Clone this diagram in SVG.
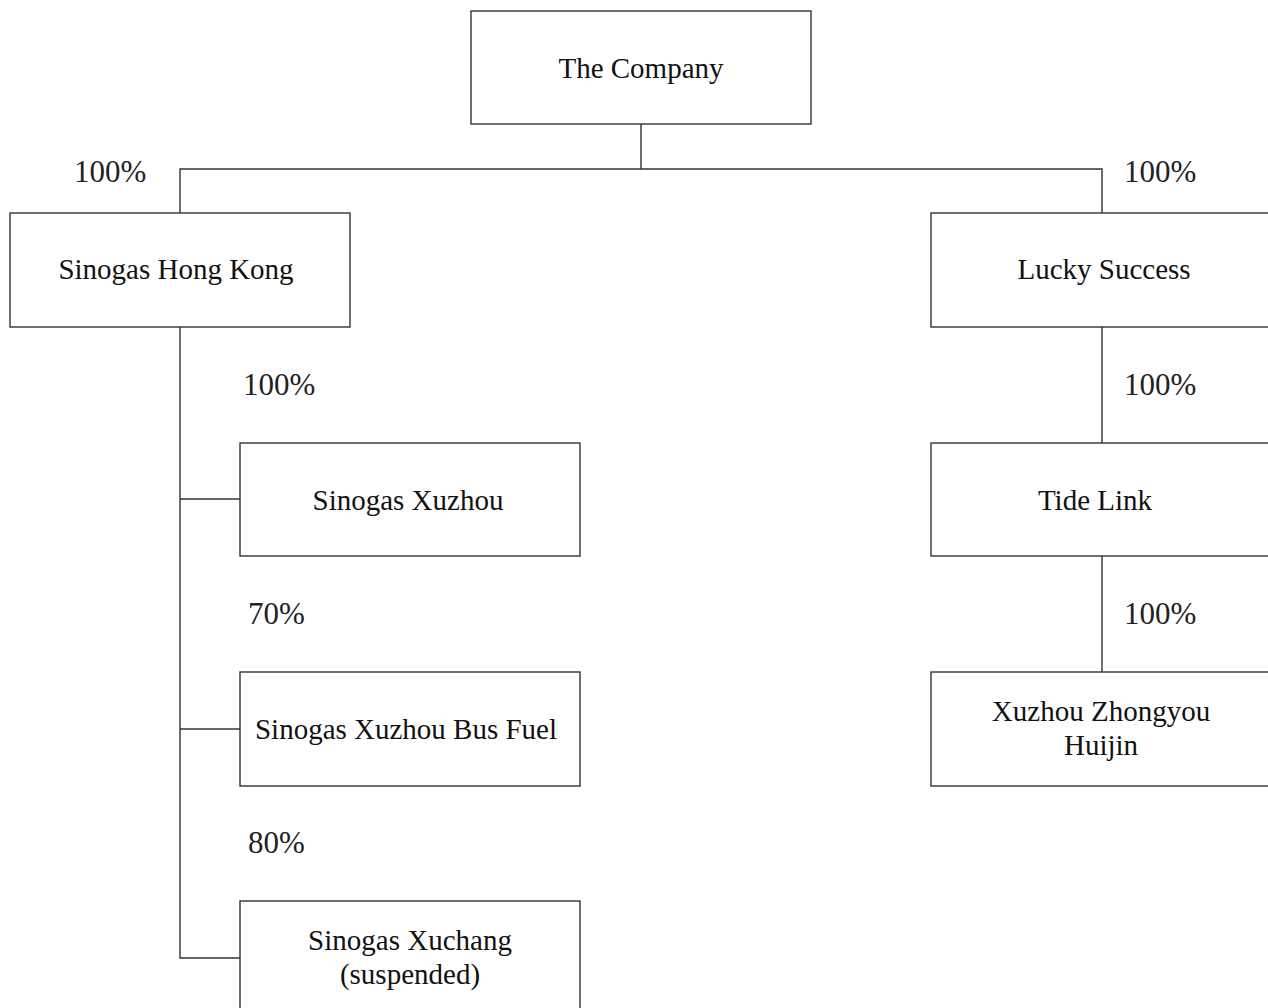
<svg xmlns="http://www.w3.org/2000/svg" width="1268" height="1008" viewBox="0 0 1268 1008">
<style>
.box{fill:#fff;stroke:#333;stroke-width:1.4}
.ln{fill:none;stroke:#333;stroke-width:1.4}
text{font-family:"Liberation Serif","Times New Roman",serif;font-size:29px;fill:#111}
.c{text-anchor:middle}
.p{font-size:31px;fill:#222}
</style>
<rect width="1268" height="1008" fill="#fff"/>
<g id="connectors">
<path class="ln" d="M641,124 V169 M180,213 V169 H1102 V213"/>
<path class="ln" d="M180,327 V958 H240 M180,499 H240 M180,729 H240"/>
<path class="ln" d="M1102,327 V443 M1102,556 V672"/>
</g>
<g id="labels">
<text class="p" x="74" y="182">100%</text>
<text class="p" x="1124" y="182">100%</text>
<text class="p" x="243" y="395">100%</text>
<text class="p" x="248" y="624">70%</text>
<text class="p" x="248" y="853">80%</text>
<text class="p" x="1124" y="395">100%</text>
<text class="p" x="1124" y="624">100%</text>
</g>
<g id="company"><rect class="box" x="471" y="11" width="340" height="113"/><text class="c" x="641" y="78">The Company</text></g>
<g id="sinogas-hk"><rect class="box" x="10" y="213" width="340" height="114"/><text class="c" x="176" y="279">Sinogas Hong Kong</text></g>
<g id="lucky-success"><rect class="box" x="931" y="213" width="345" height="114"/><text class="c" x="1104" y="279">Lucky Success</text></g>
<g id="sinogas-xuzhou"><rect class="box" x="240" y="443" width="340" height="113"/><text class="c" x="408" y="510">Sinogas Xuzhou</text></g>
<g id="tide-link"><rect class="box" x="931" y="443" width="345" height="113"/><text class="c" x="1095" y="510">Tide Link</text></g>
<g id="bus-fuel"><rect class="box" x="240" y="672" width="340" height="114"/><text class="c" x="406" y="739">Sinogas Xuzhou Bus Fuel</text></g>
<g id="zhongyou"><rect class="box" x="931" y="672" width="345" height="114"/><text class="c" x="1101" y="721">Xuzhou Zhongyou</text><text class="c" x="1101" y="755">Huijin</text></g>
<g id="xuchang"><rect class="box" x="240" y="901" width="340" height="120"/><text class="c" x="410" y="950">Sinogas Xuchang</text><text class="c" x="410" y="984">(suspended)</text></g>
</svg>
